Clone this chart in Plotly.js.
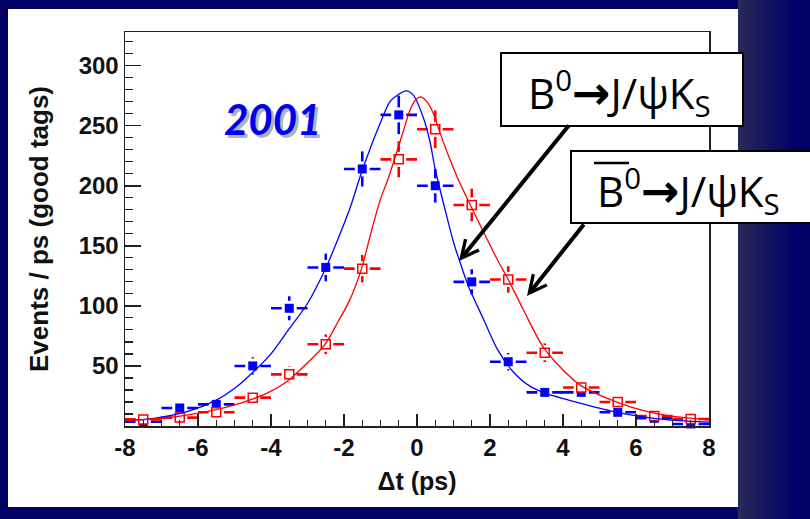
<!DOCTYPE html>
<html>
<head>
<meta charset="utf-8">
<script src="https://cdn.plot.ly/plotly-3.0.1.min.js"></script>
<style>
  html, body { margin: 0; padding: 0; }
  body {
    width: 810px; height: 519px; overflow: hidden;
    background: linear-gradient(to right, #020266 0px, #020266 738px, #2a2a5a 738px, #020266 792px);
  }
  #chart { width: 810px; height: 519px; }
</style>
</head>
<body>
<div id="chart"></div>
<script>
// Δt bins (1 ps wide) and tagged event rates
const binCenters = [-7.5, -6.5, -5.5, -4.5, -3.5, -2.5, -1.5, -0.5, 0.5, 1.5, 2.5, 3.5, 4.5, 5.5, 6.5, 7.5];

// B0 tags (filled squares)
const b0Counts = [3.6, 15, 18, 50, 98, 132, 214, 259, 200, 120, 53.5, 28, 28, 11.4, 6.4, 1.7];
const b0Errors = [1.8, 4, 4.3, 7.2, 10, 11.5, 14.6, 16, 14, 10.5, 7.3, 5.3, 5.3, 3.4, 2.5, 1.4];

// anti-B0 tags (open squares)
const b0barCounts = [5.5, 7, 11.4, 23.6, 43, 68, 131, 222, 247, 184, 122, 61, 32, 20, 8.3, 5.8];
const b0barErrors = [2.3, 2.6, 3.4, 4.9, 6.6, 8.2, 11.4, 15, 15.7, 13.6, 11, 7.8, 5.7, 4.5, 2.9, 2.4];

// fitted Δt distributions
const b0FitT = [-8, -7.2, -6.3, -5.5, -4.94, -4.48, -4.03, -3.5, -3.0, -2.52, -2.2, -1.84, -1.52, -1.01, -0.74, -0.51, -0.30, -0.10, 0.17, 0.36, 0.49, 0.77, 1.0, 1.16, 1.4, 1.82, 2.2, 2.64, 3.1, 3.55, 4.47, 5.38, 6.29, 7.2, 8.0];
const b0FitY = [4.4, 6.4, 11.9, 21.6, 32.7, 45.2, 59, 81, 102, 130, 153, 181, 211, 252, 270, 276, 279, 275.5, 257, 236, 215, 180, 153, 138, 117, 89, 64, 45, 33, 27, 19, 12, 7.2, 4.4, 3.3];

const b0barFitT = [-8, -6.77, -5.76, -4.85, -4.12, -3.57, -3.02, -2.52, -2.16, -1.84, -1.52, -1.29, -1.01, -0.79, -0.42, -0.19, -0.05, 0.10, 0.27, 0.45, 0.63, 0.9, 1.09, 1.27, 1.54, 2.21, 2.5, 2.91, 3.45, 4.0, 4.47, 5.1, 5.84, 6.75, 8.0];
const b0barFitY = [4.4, 7.2, 11.9, 18.9, 27.2, 36.9, 52, 68, 87, 105, 131, 157.5, 188, 206, 241, 263, 271, 274, 270, 260, 244, 222, 208, 196, 179, 138, 122, 97, 66, 46.6, 34, 24.4, 16, 9.2, 5];

// axis ticks
const xTickVals = [-8, -6, -4, -2, 0, 2, 4, 6, 8];
const xTickText = ['-8', '-6', '-4', '-2', '0', '2', '4', '6', '8'];
const yTickVals = [50, 100, 150, 200, 250, 300];
const yTickText = ['50', '100', '150', '200', '250', '300'];

const yearLabel = '2001';
const arrowGlyph = '<span style="font-family:DejaVu Sans;font-weight:bold;font-size:46px">→</span>';
const b0Label = 'B<sup>0</sup>' + arrowGlyph + 'J/ψK<sub>S</sub>';
const b0barLabel = 'B<sup>0</sup>' + arrowGlyph + 'J/ψK<sub>S</sub>';

const BLUE = '#0000ff';
const RED = '#ff0000';
const AXIS = '#222222';
const binHalf = 0.5;

function errorTrace(y, err, color) {
  // white square under each point leaves a gap in the error bars
  return {
    x: binCenters, y: y, type: 'scatter', mode: 'markers', cliponaxis: false,
    marker: { symbol: 'square', size: 15, color: 'white', line: { width: 0 } },
    error_y: { type: 'data', array: err, visible: true, thickness: 2.6, width: 0, color: color },
    error_x: { type: 'constant', value: binHalf, visible: true, thickness: 2.6, width: 0, color: color },
    hoverinfo: 'skip', showlegend: false
  };
}

const traces = [
  errorTrace(b0Counts, b0Errors, BLUE),
  errorTrace(b0barCounts, b0barErrors, RED),
  {
    x: binCenters, y: b0Counts, type: 'scatter', mode: 'markers', cliponaxis: false,
    marker: { symbol: 'square', size: 9, color: BLUE, line: { width: 0 } },
    showlegend: false
  },
  {
    x: binCenters, y: b0barCounts, type: 'scatter', mode: 'markers', cliponaxis: false,
    marker: { symbol: 'square', size: 9, color: 'white', line: { width: 1.5, color: RED } },
    showlegend: false
  },
  {
    x: b0FitT, y: b0FitY, type: 'scatter', mode: 'lines',
    line: { color: BLUE, width: 1.3, shape: 'spline', smoothing: 0.8 },
    showlegend: false
  },
  {
    x: b0barFitT, y: b0barFitY, type: 'scatter', mode: 'lines',
    line: { color: RED, width: 1.3, shape: 'spline', smoothing: 0.8 },
    showlegend: false
  }
];

// plot area in pixels: left 125, right 709, top 32, bottom 426
const L = 125, R = 709, T = 32, B = 426;
const px = v => (v - L) / (R - L);
const py = v => (B - v) / (B - T);

const tickFont = { family: 'Liberation Sans, Arial, sans-serif', size: 24, color: '#111', weight: 'bold' };
const titleFont = { family: 'Liberation Sans, Arial, sans-serif', size: 25, color: '#111', weight: 'bold' };
const boxFont = { family: 'Open Sans, Noto Sans, sans-serif', size: 42, color: '#000' };
const yearFont = { family: 'Lato, Liberation Sans, sans-serif', size: 42, weight: 'bold', style: 'italic' };

function label(x, y, text, font) {
  return { xref: 'paper', yref: 'paper', x: px(x), y: py(y), xanchor: 'center', yanchor: 'middle',
           text: text, showarrow: false, font: font };
}
function pointer(tipX, tipY, tailX, tailY) {
  return { xref: 'paper', yref: 'paper', x: px(tipX), y: py(tipY), ax: tailX - tipX, ay: tailY - tipY,
           text: '', showarrow: true, arrowhead: 5, arrowsize: 0.85, arrowwidth: 4, arrowcolor: '#000',
           standoff: 0, startstandoff: 0 };
}

const layout = {
  width: 810, height: 519,
  margin: { l: L, r: 810 - R, t: T, b: 519 - B, pad: 0 },
  paper_bgcolor: 'rgba(0,0,0,0)',
  plot_bgcolor: 'white',
  xaxis: {
    range: [-8, 8], tickmode: 'array', tickvals: xTickVals, ticktext: xTickText,
    ticks: 'inside', ticklen: 12, tickwidth: 1.5, tickcolor: AXIS,
    minor: { dtick: 0.5, tick0: 0, ticks: 'inside', ticklen: 6, tickwidth: 1.2, tickcolor: AXIS, showgrid: false },
    showline: true, linecolor: AXIS, linewidth: 1.5, mirror: true,
    showgrid: false, zeroline: false, tickfont: tickFont,
    title: { text: 'Δt (ps)', font: titleFont, standoff: 12 }
  },
  yaxis: {
    range: [0, 328], tickmode: 'array', tickvals: yTickVals, ticktext: yTickText,
    ticks: 'inside', ticklen: 16, tickwidth: 1.5, tickcolor: AXIS,
    minor: { dtick: 10, tick0: 0, ticks: 'inside', ticklen: 8, tickwidth: 1.2, tickcolor: AXIS, showgrid: false },
    showline: true, linecolor: AXIS, linewidth: 1.5, mirror: true,
    showgrid: false, zeroline: false, tickfont: tickFont,
    title: { text: 'Events / ps (good tags)', font: { ...titleFont, size: 26 }, standoff: 22 }
  },
  shapes: [
    // white slide panel
    { type: 'rect', xref: 'paper', yref: 'paper', x0: px(8), x1: px(738), y0: py(507), y1: py(9),
      fillcolor: 'white', line: { width: 0 }, layer: 'below' },
    // label boxes
    { type: 'rect', xref: 'paper', yref: 'paper', x0: px(501), x1: px(743), y0: py(126), y1: py(53),
      fillcolor: 'white', line: { color: '#000', width: 2 }, layer: 'above' },
    { type: 'rect', xref: 'paper', yref: 'paper', x0: px(571), x1: px(814), y0: py(223), y1: py(151),
      fillcolor: 'white', line: { color: '#000', width: 2 }, layer: 'above' },
    // bar over the second B
    { type: 'line', xref: 'paper', yref: 'paper', x0: px(594), x1: px(629), y0: py(163), y1: py(163),
      line: { color: '#000', width: 2.5 }, layer: 'above' }
  ],
  annotations: [
    label(275, 122, yearLabel, { ...yearFont, color: 'rgba(80,80,80,0.45)' }),
    label(272, 119, yearLabel, { ...yearFont, color: '#0000ee' }),
    label(619, 93, b0Label, boxFont),
    label(688, 191, b0barLabel, boxFont),
    pointer(459, 261, 570, 124),
    pointer(527, 296, 585, 223)
  ]
};

Plotly.newPlot('chart', traces, layout, { displayModeBar: false, staticPlot: true });
</script>
</body>
</html>
